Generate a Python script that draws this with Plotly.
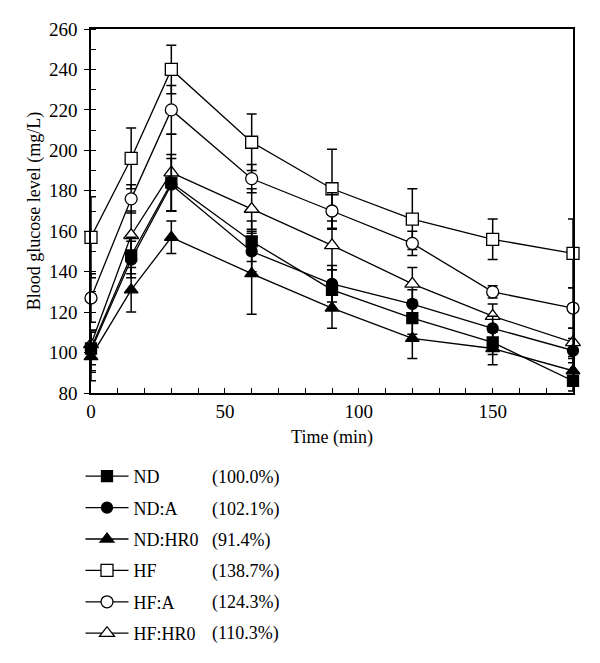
import plotly.graph_objects as go

time_min = [0, 15, 30, 60, 90, 120, 150, 180]

series_names = ["ND", "ND:A", "ND:HR0", "HF", "HF:A", "HF:HR0"]
auc_labels = ["(100.0%)", "(102.1%)", "(91.4%)", "(138.7%)", "(124.3%)", "(110.3%)"]

nd_mean = [102, 148, 184, 155, 131, 117, 105, 86]
nd_err = [8, 9, 14, 10, 10, 8, 6, 5]

nda_mean = [101, 146, 183, 150, 134, 124, 112, 101]
nda_err = [10, 9, 13, 10, 9, 7, 6, 6]

ndhr0_mean = [98, 131, 157, 139, 122, 107, 102, 91]
ndhr0_err = [12, 11, 8, 20, 10, 10, 8, 6]

hf_mean = [157, 196, 240, 204, 181, 166, 156, 149]
hf_err = [20, 15, 12, 14, 19.5, 15, 10, 17]

hfa_mean = [127, 176, 220, 186, 170, 154, 130, 122]
hfa_err = [12, 7, 12, 7, 9, 6, 3, 10]

hfhr0_mean = [104, 158, 189, 171, 153, 134, 118, 105]
hfhr0_err = [7, 12, 19, 10, 12, 8, 6, 7]

means = [nd_mean, nda_mean, ndhr0_mean, hf_mean, hfa_mean, hfhr0_mean]
errs = [nd_err, nda_err, ndhr0_err, hf_err, hfa_err, hfhr0_err]
symbols = ["square", "circle", "triangle-up", "square", "circle", "triangle-up"]
fills = ["black", "black", "black", "white", "white", "white"]
sizes = [11, 11, 12, 12, 12, 13]

FONT = "Liberation Serif"
W, H = 600, 663
ML, MR, MT, MB = 91, 27, 29, 270
PW, PH = W - ML - MR, H - MT - MB

fig = go.Figure()

order = [3, 4, 5, 2, 1, 0]
for i in order:
    fig.add_trace(go.Scatter(
        x=time_min, y=means[i], name=series_names[i],
        legendgroup=series_names[i], legendrank=i + 1,
        mode="lines+markers",
        line=dict(color="black", width=1.3),
        marker=dict(symbol=symbols[i], size=sizes[i], color=fills[i],
                    line=dict(color="black", width=1.3)),
        error_y=dict(type="data", array=errs[i], visible=True,
                     color="black", thickness=1.5, width=5),
        cliponaxis=False,
    ))

fig.add_trace(go.Scatter(x=[0], y=[80], yaxis="y2", mode="markers",
                         marker=dict(opacity=0), showlegend=False,
                         hoverinfo="skip"))

fig.update_layout(
    width=W, height=H,
    margin=dict(l=ML, r=MR, t=MT, b=MB, autoexpand=False),
    paper_bgcolor="white", plot_bgcolor="white",
    font=dict(family=FONT, size=18, color="black"),
    showlegend=True,
    legend=dict(
        x=(80.5 - ML) / PW, y=1 - (458 - MT) / PH, xanchor="left", yanchor="top",
        font=dict(family=FONT, size=18, color="black"),
        tracegroupgap=5, itemwidth=43,
        bgcolor="rgba(0,0,0,0)", traceorder="grouped",
    ),
    xaxis=dict(
        range=[0, 180], tickvals=[0, 50, 100, 150],
        ticks="inside", ticklen=5, tickwidth=1.3, tickcolor="black",
        minor=dict(dtick=10, tick0=0, ticks="inside", ticklen=5,
                   tickwidth=1.3, tickcolor="black"),
        showline=True, linecolor="black", linewidth=1.5, mirror=True,
        showgrid=False, zeroline=False,
        title=dict(text="Time (min)", font=dict(family=FONT, size=18), standoff=10),
        tickfont=dict(family=FONT, size=19),
    ),
    yaxis=dict(
        range=[80, 260], dtick=20, tick0=80,
        ticks="outside", ticklen=5, tickwidth=1.3, tickcolor="black",
        minor=dict(dtick=10, tick0=80, ticks="inside", ticklen=5,
                   tickwidth=1.3, tickcolor="black"),
        showline=True, linecolor="black", linewidth=1.5, mirror=True,
        showgrid=False, zeroline=False,
        ticklabelstandoff=3,
        title=dict(text="Blood glucose level (mg/L)", font=dict(family=FONT, size=18), standoff=4),
        tickfont=dict(family=FONT, size=19),
    ),
    yaxis2=dict(
        range=[80, 260], dtick=20, tick0=80, overlaying="y", side="left",
        ticks="inside", ticklen=5, tickwidth=1.3, tickcolor="black",
        showticklabels=False, showline=False, showgrid=False, zeroline=False,
    ),
)

row_y_px = [477, 509, 540, 571, 602, 633]
for lbl, ypx in zip(auc_labels, row_y_px):
    fig.add_annotation(
        x=(210 - ML) / PW, y=1 - (ypx - MT) / PH,
        xref="paper", yref="paper", text=lbl, showarrow=False,
        xanchor="left", yanchor="middle",
        font=dict(family=FONT, size=18, color="black"),
    )

fig.write_html("out.html")
